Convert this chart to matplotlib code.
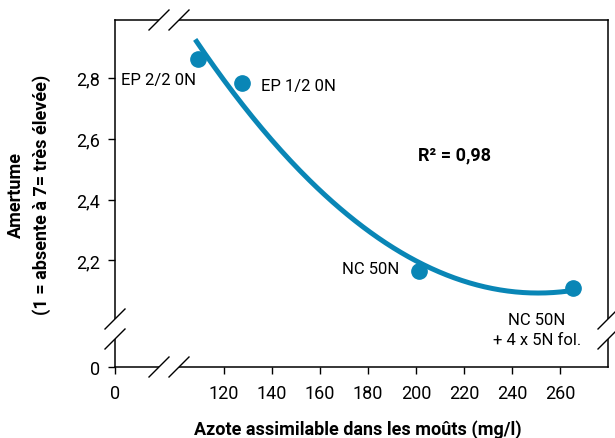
import matplotlib
matplotlib.use("Agg")
import matplotlib.pyplot as plt
import numpy as np

# values
azote = [109.2, 127.5, 201.2, 265.4]
amertume = [2.863, 2.784, 2.164, 2.111]
labels = ["EP 2/2 0N", "EP 1/2 0N", "NC 50N", "NC 50N\n+ 4 x 5N fol."]
label_offsets = [(-1.5, -15), (14, -2), (-14, 2), (-26, -30)]
label_ha = ["right", "left", "right", "center"]

x_ticks = [0, 120, 140, 160, 180, 200, 220, 240, 260]
y_ticks = [0, 2.2, 2.4, 2.6, 2.8]
y_tick_labels = ["0", "2,2", "2,4", "2,6", "2,8"]
r2_text = "R² = 0,98"

BLUE = "#0986b6"
plt.rcParams["font.family"] = ["Roboto", "DejaVu Sans"]
plt.rcParams["font.size"] = 12

# broken axes: compress the empty part below the break
XB, KX = 100.0, 0.254
YB, KY = 2.0, 0.075


def fx(x):
    x = np.asarray(x, dtype=float)
    return np.where(x >= XB, x, XB - (XB - x) * KX)


def fx_inv(x):
    x = np.asarray(x, dtype=float)
    return np.where(x >= XB, x, XB - (XB - x) / KX)


def fy(y):
    y = np.asarray(y, dtype=float)
    return np.where(y >= YB, y, YB - (YB - y) * KY)


def fy_inv(y):
    y = np.asarray(y, dtype=float)
    return np.where(y >= YB, y, YB - (YB - y) / KY)


fig = plt.figure(figsize=(6.15, 4.39), dpi=100)
ax = fig.add_axes([115 / 615, 71 / 439, 493 / 615, 347 / 439])
ax.set_xscale("function", functions=(fx, fx_inv))
ax.set_yscale("function", functions=(fy, fy_inv))
ax.set_xlim(0, 280)
ax.set_ylim(0, 2.99)

# quadratic trend through the points
coef = np.polyfit(azote, amertume, 2)
xs = np.linspace(108, 266, 200)
ax.plot(xs, np.polyval(coef, xs), color=BLUE, lw=3.6, solid_capstyle="butt", zorder=2)
ax.plot(azote, amertume, "o", color=BLUE, ms=11, zorder=3)

for x, y, lab, off, ha in zip(azote, amertume, labels, label_offsets, label_ha):
    ax.annotate(lab, (x, y), xytext=off, textcoords="offset points",
                ha=ha, va="center", multialignment="center", linespacing=1.4)

ax.text(0.689, 0.612, r2_text, transform=ax.transAxes, fontweight="bold",
        ha="center", va="center", fontsize=13)

ax.set_xticks(x_ticks)
ax.set_xticklabels([str(t) for t in x_ticks])
ax.set_yticks(y_ticks)
ax.set_yticklabels(y_tick_labels)
ax.minorticks_off()
ax.tick_params(direction="out", length=5, width=1, pad=6, labelsize=13)
ax.tick_params(axis="x", pad=7)

for sp in ax.spines.values():
    sp.set_linewidth(1.1)

# white gaps in the spines + slashes
def gap(x0, y0, x1, y1):
    ax.plot([x0, x1], [y0, y1], color="white", lw=3, transform=ax.transAxes,
            clip_on=False, zorder=5, solid_capstyle="butt")


def slash(cx, cy):
    dx, dy = 10 / 493, 10 / 347
    ax.plot([cx - dx, cx + dx], [cy - dy, cy + dy], color="black", lw=1,
            transform=ax.transAxes, clip_on=False, zorder=6)


xa, xb = 44 / 493, 64 / 493
ya, yb = 28 / 347, 48 / 347
for yy in (0, 1):
    gap(xa, yy, xb, yy)
    slash(xa, yy)
    slash(xb, yy)
for xx in (0, 1):
    gap(xx, ya, xx, yb)
    slash(xx, ya)
    slash(xx, yb)

fig.text(358 / 615, 1 - 430 / 439, "Azote assimilable dans les moûts (mg/l)",
         fontweight="bold", ha="center", va="center", fontsize=13)
fig.text(29 / 615, 1 - 195 / 439, "Amertume\n(1 = absente à 7= très élevée)",
         fontweight="bold", ha="center", va="center", rotation=90,
         multialignment="center", fontsize=13, linespacing=1.45)

fig.savefig("out.png", dpi=100)
